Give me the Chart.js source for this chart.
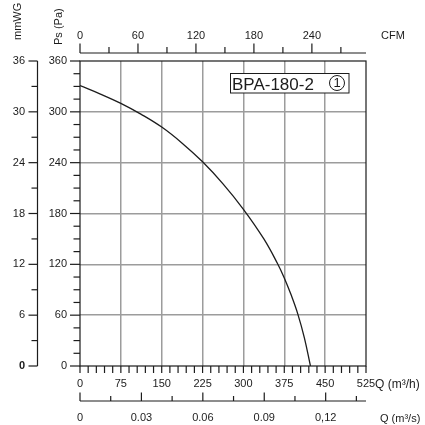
<!DOCTYPE html>
<html lang="en">
<head>
<meta charset="UTF-8">
<title>BPA-180-2</title>
<script src="https://cdn.jsdelivr.net/npm/chart.js"></script>
<style>
  html, body { margin: 0; padding: 0; background: #fff; }
</style>
</head>
<body>
<canvas id="fanChart" width="425" height="425"></canvas>
<script>
// fan curve: airflow Q (m³/h) against static pressure Ps (Pa)
const flowM3h    = [0, 37.5, 75, 112.5, 150, 187.5, 225, 262.5, 300, 337.5, 362.5, 375, 387.5, 400, 412, 423];
const pressurePa = [331, 321, 310, 297, 282, 263, 241, 215, 185, 150, 121, 104, 84, 61, 33, 0];

const qTicks   = [0, 75, 150, 225, 300, 375, 450, 525];
const paTicks  = [0, 60, 120, 180, 240, 300, 360];
const mmTicks  = [0, 6, 12, 18, 24, 30, 36];
const cfmTicks = [0, 60, 120, 180, 240];
const qsTicks  = [0, 0.03, 0.06, 0.09, 0.12];
const qsLabels = ['0', '0.03', '0.06', '0.09', '0,12'];
const modelName = 'BPA-180-2';

const FONT = '"Liberation Sans", Arial, sans-serif';
const INK = '#1c1c1c';
const GRID = '#9c9c9c';

// secondary scales are drawn by hand, the chart only provides the mapping
const extraAxes = {
    id: 'extraAxes',
    beforeDatasetsDraw(chart) {
        const ctx = chart.ctx;
        const a = chart.chartArea;
        const x = chart.scales.x, y = chart.scales.y;
        const cfm = chart.scales.cfm, qs = chart.scales.qs, mm = chart.scales.mm;

        ctx.save();
        ctx.strokeStyle = INK;
        ctx.fillStyle = INK;
        ctx.lineWidth = 1.2;

        const line = (x1, y1, x2, y2) => {
            ctx.beginPath(); ctx.moveTo(x1, y1); ctx.lineTo(x2, y2); ctx.stroke();
        };

        // frame
        ctx.strokeRect(a.left, a.top, a.right - a.left, a.bottom - a.top);

        // Pa ticks (every 15, long every 60)
        for (let v = 0; v <= 360; v += 15) {
            const py = y.getPixelForValue(v);
            line(a.left - (v % 60 === 0 ? 10 : 6.5), py, a.left, py);
        }
        // m³/h ticks (every 15)
        for (let v = 0; v <= 525; v += 15) {
            const px = x.getPixelForValue(v);
            line(px, a.bottom, px, a.bottom + 7);
        }

        ctx.font = '11px ' + FONT;

        // CFM axis on top
        const cy = 53;
        line(a.left, cy, a.right, cy);
        for (let v = 0; v <= 270; v += 30) {
            const px = cfm.getPixelForValue(v);
            line(px, cy, px, cy - (v % 60 === 0 ? 9.5 : 6));
        }
        ctx.textAlign = 'center';
        ctx.textBaseline = 'alphabetic';
        cfmTicks.forEach(v => ctx.fillText(String(v), cfm.getPixelForValue(v), 39));
        ctx.textAlign = 'left';
        ctx.fillText('CFM', 381, 39);

        // m³/s axis below
        const sy = 401;
        line(a.left, sy, a.right, sy);
        for (let i = 0; i <= 9; i++) {
            const px = qs.getPixelForValue(i * 0.015);
            line(px, sy, px, sy - (i % 2 === 0 ? 8.5 : 5));
        }
        ctx.textAlign = 'center';
        qsTicks.forEach((v, i) => ctx.fillText(qsLabels[i], qs.getPixelForValue(v), 421));

        // mmWG axis on the far left
        const mx = 37.5;
        line(mx, a.top, mx, a.bottom);
        for (let v = 0; v <= 36; v += 3) {
            const py = mm.getPixelForValue(v);
            line(mx - (v % 6 === 0 ? 9 : 6), py, mx, py);
        }
        ctx.textAlign = 'right';
        ctx.textBaseline = 'middle';
        mmTicks.forEach(v => {
            ctx.font = (v === 0 ? 'bold 11px ' : '11px ') + FONT;
            ctx.fillText(String(v), 25, mm.getPixelForValue(v));
        });

        // axis titles
        ctx.textAlign = 'left';
        ctx.textBaseline = 'alphabetic';
        ctx.font = '12px ' + FONT;
        ctx.fillText('Q (m³/h)', 375, 388);
        ctx.font = '11px ' + FONT;
        ctx.fillText('Q (m³/s)', 380, 422);

        ctx.textBaseline = 'middle';
        ctx.save();
        ctx.translate(18, 40);
        ctx.rotate(-Math.PI / 2);
        ctx.fillText('mmWG', 0, 0);
        ctx.restore();
        ctx.save();
        ctx.translate(59, 45);
        ctx.rotate(-Math.PI / 2);
        ctx.fillText('Ps (Pa)', 0, 0);
        ctx.restore();

        ctx.restore();
    },
    afterDatasetsDraw(chart) {
        // model label box
        const ctx = chart.ctx;
        ctx.save();
        ctx.fillStyle = '#fff';
        ctx.fillRect(230, 73, 119, 20);
        ctx.strokeStyle = INK;
        ctx.lineWidth = 1;
        ctx.strokeRect(230.5, 73.5, 118.5, 19.5);
        ctx.fillStyle = INK;
        ctx.font = '17px ' + FONT;
        ctx.textAlign = 'left';
        ctx.textBaseline = 'alphabetic';
        ctx.fillText(modelName, 232, 90);
        ctx.beginPath();
        ctx.arc(337, 83, 7.5, 0, Math.PI * 2);
        ctx.stroke();
        ctx.font = '13px ' + FONT;
        ctx.textAlign = 'center';
        ctx.textBaseline = 'middle';
        ctx.fillText('1', 337, 83.5);
        ctx.restore();
    }
};

const ctx = document.getElementById('fanChart').getContext('2d');
const fanChart = new Chart(ctx, {
    type: 'line',
    data: {
        datasets: [{
            data: flowM3h.map((q, i) => ({ x: q, y: pressurePa[i] })),
            borderColor: INK,
            borderWidth: 1.3,
            pointRadius: 0,
            fill: false,
            tension: 0.4
        }]
    },
    options: {
        responsive: false,
        animation: false,
        devicePixelRatio: 1,
        layout: { padding: { left: 40, top: 61, right: 59, bottom: 35 } },
        plugins: { legend: { display: false }, tooltip: { enabled: false } },
        scales: {
            x: {
                type: 'linear',
                position: 'bottom',
                min: 0, max: 525,
                afterBuildTicks: s => { s.ticks = qTicks.map(v => ({ value: v })); },
                afterFit: s => { s.height = 24; },
                grid: {
                    drawTicks: false,
                    lineWidth: 1.5,
                    color: c => (c.tick && c.tick.value > 0 && c.tick.value < 525) ? GRID : 'transparent'
                },
                border: { display: false },
                ticks: { padding: 11, color: INK, font: { family: FONT, size: 11 }, maxRotation: 0 }
            },
            y: {
                type: 'linear',
                position: 'left',
                min: 0, max: 360,
                afterBuildTicks: s => { s.ticks = paTicks.map(v => ({ value: v })); },
                afterFit: s => { s.width = 40; },
                grid: {
                    drawTicks: false,
                    lineWidth: 1.5,
                    color: c => (c.tick && c.tick.value > 0 && c.tick.value < 360) ? GRID : 'transparent'
                },
                border: { display: false },
                ticks: { padding: 13, color: INK, font: { family: FONT, size: 11 } }
            },
            cfm: { type: 'linear', position: 'top', min: 0, max: 296, display: false },
            qs: { type: 'linear', position: 'bottom', min: 0, max: 0.1397, display: false },
            mm: { type: 'linear', position: 'left', min: 0, max: 36, display: false }
        }
    },
    plugins: [extraAxes]
});
</script>
</body>
</html>
